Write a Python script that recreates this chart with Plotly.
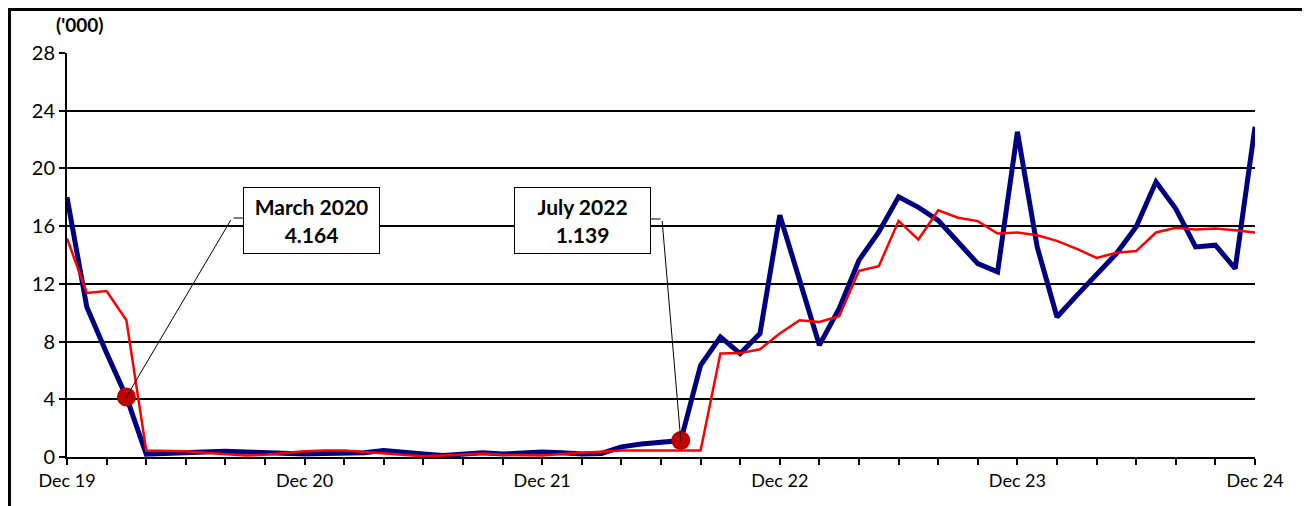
import plotly.graph_objects as go

# Monthly index 0 = Dec 2019 ... 60 = Dec 2024
months = list(range(61))
tick_positions = list(range(0, 61, 2))
tick_labels = {0: "Dec 19", 12: "Dec 20", 24: "Dec 21", 36: "Dec 22", 48: "Dec 23", 60: "Dec 24"}

blue_values = [
    18.0, 10.4, 7.2, 4.164, 0.2, 0.25, 0.3, 0.35, 0.4, 0.35, 0.3, 0.25,
    0.2, 0.25, 0.3, 0.3, 0.45, 0.3, 0.2, 0.1, 0.2, 0.3, 0.2, 0.3,
    0.35, 0.3, 0.2, 0.25, 0.7, 0.9, 1.0, 1.139, 6.36, 8.32, 7.17, 8.56,
    16.76, 12.2, 7.75, 10.3, 13.64, 15.6, 18.03, 17.3, 16.4, 14.9, 13.4, 12.83,
    22.54, 14.56, 9.7, 11.2, 12.6, 14.1, 15.95, 19.07, 17.2, 14.56, 14.68, 13.06,
    22.88,
]

red_values = [
    15.15, 11.37, 11.5, 9.48, 0.45, 0.45, 0.4, 0.3, 0.2, 0.1, 0.15, 0.3,
    0.4, 0.45, 0.45, 0.35, 0.25, 0.1, 0.05, 0.1, 0.15, 0.25, 0.15, 0.1,
    0.1, 0.2, 0.3, 0.4, 0.45, 0.45, 0.45, 0.45, 0.45, 7.17, 7.2, 7.47,
    8.56, 9.48, 9.36, 9.76, 12.9, 13.22, 16.37, 15.07, 17.1, 16.58, 16.35, 15.49,
    15.56, 15.37, 14.98, 14.43, 13.8, 14.15, 14.27, 15.56, 15.88, 15.77, 15.84, 15.72,
    15.56,
]

highlight_idx = [3, 31]
highlight_labels = ["March 2020", "July 2022"]
highlight_vals = [4.164, 1.139]

y_ticks = list(range(0, 29, 4))

FONT = "Lato, 'Open Sans', sans-serif"

fig = go.Figure()
fig.add_trace(go.Scatter(x=months, y=blue_values, mode="lines",
                         line=dict(color="#000080", width=5), showlegend=False))
fig.add_trace(go.Scatter(x=months, y=red_values, mode="lines",
                         line=dict(color="#FF0000", width=2.5), showlegend=False))
fig.add_trace(go.Scatter(x=highlight_idx, y=highlight_vals, mode="markers",
                         marker=dict(color="#C00000", size=19), showlegend=False))

OFF = 8  # page body margin
W, H = 1302, 498
L, R, T = 67 - OFF, 55, 53 - OFF
pw, ph = 1188, 404
B = H - T - ph

def px(xp):  # page x -> paper
    return (xp - OFF - L) / pw

def py(yp):  # page y -> paper
    return (T + ph - (yp - OFF)) / ph

box_centers = [(311.5, 220.5), (582.0, 220.5)]
elbow_pts = [(232, 218), (662, 219)]
box_edges = [243, 650]
annotations = []
for i in range(2):
    cx, cy = box_centers[i]
    annotations.append(dict(
        x=px(cx), y=py(cy), xref="paper", yref="paper", showarrow=False,
        xanchor="center", yanchor="middle",
        text="<b>%s</b><br><b>%s</b>" % (highlight_labels[i], f"{highlight_vals[i]:.3f}"),
        font=dict(family=FONT, size=21, color="black"),
        bgcolor="white", bordercolor="black", borderwidth=1, borderpad=0,
        width=135, height=65, align="center"))
    pt_x = OFF + L + pw * highlight_idx[i] / 60
    pt_y = OFF + T + ph - ph * highlight_vals[i] / 28
    ex, ey = elbow_pts[i]
    annotations.append(dict(
        x=highlight_idx[i], y=highlight_vals[i], xref="x", yref="y",
        ax=ex - pt_x, ay=ey - pt_y, showarrow=True, arrowhead=0,
        arrowwidth=1, arrowcolor="black", text=" ", font=dict(size=1)))
    annotations.append(dict(
        x=px(box_edges[i]), y=py(ey), xref="paper", yref="paper",
        ax=ex - box_edges[i], ay=0, showarrow=True, arrowhead=0,
        arrowwidth=1, arrowcolor="black", text=" ", font=dict(size=1)))

annotations.append(dict(
    x=px(79.5), y=py(25), xref="paper", yref="paper", showarrow=False,
    xanchor="center", yanchor="middle",
    text="<b>('000)</b>", font=dict(family=FONT, size=19, color="black")))

fig.update_layout(
    width=W, height=H,
    margin=dict(l=L, r=R, t=T, b=B),
    paper_bgcolor="white", plot_bgcolor="white",
    font=dict(family=FONT, size=18, color="black"),
    annotations=annotations,
    shapes=[dict(type="rect", xref="paper", yref="paper",
                 x0=px(9.5), x1=px(1305), y0=py(540), y1=py(9.5),
                 line=dict(color="black", width=3), layer="above")],
)
fig.update_xaxes(
    range=[0, 60], tickmode="array", tickvals=tick_positions,
    ticktext=[tick_labels.get(t, "") for t in tick_positions],
    showgrid=False, zeroline=False, showline=True, linecolor="black", linewidth=2,
    ticks="outside", ticklen=6, tickwidth=2, tickcolor="black",
    tickfont=dict(family=FONT, size=18, color="black"))
fig.update_yaxes(
    range=[0, 28], tickmode="array", tickvals=y_ticks,
    showgrid=True, gridcolor="black", gridwidth=2, zeroline=False,
    showline=True, linecolor="black", linewidth=2,
    ticks="outside", ticklen=6, tickwidth=2, tickcolor="black",
    tickfont=dict(family=FONT, size=20, color="black"))

fig.write_html("out.html")
